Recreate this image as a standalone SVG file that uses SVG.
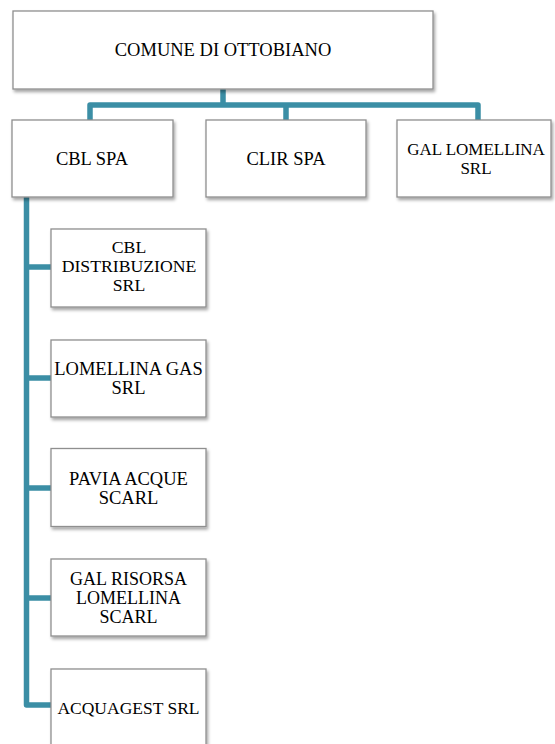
<svg xmlns="http://www.w3.org/2000/svg" width="555" height="744" viewBox="0 0 555 744">
  <defs>
    <filter id="sh" x="-10%" y="-10%" width="130%" height="140%">
      <feDropShadow dx="1.5" dy="2.5" stdDeviation="1.6" flood-color="#000" flood-opacity="0.35"/>
    </filter>
  </defs>
  <style>
    .box { fill: #ffffff; stroke: #8f8f8f; stroke-width: 1.3; filter: url(#sh); }
    .t { font-family: "Liberation Serif", "Times New Roman", serif; font-size: 18.5px; fill: #000; text-anchor: middle; }
    .conn { fill: none; stroke: #3b8ea5; stroke-width: 5.5; stroke-linejoin: round; }
  </style>
  <rect width="555" height="744" fill="#ffffff"/>

  <g id="connectors">
    <path class="conn" d="M223 89 V105 M90 120 V105 H478 V120 M286 105 V120"/>
    <path class="conn" d="M26.5 197 V705 H51 M26.5 267 H51 M26.5 378 H51 M26.5 488 H51 M26.5 598 H51"/>
  </g>

  <g id="comune">
    <rect class="box" x="13" y="11" width="420" height="78"/>
    <text class="t" x="223" y="55.5">COMUNE DI OTTOBIANO</text>
  </g>

  <g id="cbl-spa">
    <rect class="box" x="12" y="120" width="161" height="77"/>
    <text class="t" x="92" y="165">CBL SPA</text>
  </g>

  <g id="clir-spa">
    <rect class="box" x="206" y="120" width="160" height="77"/>
    <text class="t" x="286" y="165">CLIR SPA</text>
  </g>

  <g id="gal-lomellina">
    <rect class="box" x="397" y="120" width="154" height="77"/>
    <text class="t" x="476" y="155" style="font-size:17px">GAL LOMELLINA</text>
    <text class="t" x="476" y="174" style="font-size:17px">SRL</text>
  </g>

  <g id="cbl-distribuzione">
    <rect class="box" x="51" y="229" width="155" height="78"/>
    <text class="t" x="129" y="253" style="font-size:17.7px">CBL</text>
    <text class="t" x="129" y="272" style="font-size:17.7px">DISTRIBUZIONE</text>
    <text class="t" x="129" y="290.5" style="font-size:17.7px">SRL</text>
  </g>

  <g id="lomellina-gas">
    <rect class="box" x="51" y="340" width="155" height="77"/>
    <text class="t" x="128.5" y="375">LOMELLINA GAS</text>
    <text class="t" x="128.5" y="394">SRL</text>
  </g>

  <g id="pavia-acque">
    <rect class="box" x="51" y="448.5" width="155" height="78"/>
    <text class="t" x="128.5" y="485">PAVIA ACQUE</text>
    <text class="t" x="128.5" y="503.5">SCARL</text>
  </g>

  <g id="gal-risorsa">
    <rect class="box" x="51" y="559" width="155" height="77"/>
    <text class="t" x="128.5" y="585" style="font-size:18px">GAL RISORSA</text>
    <text class="t" x="128.5" y="604" style="font-size:18px">LOMELLINA</text>
    <text class="t" x="128.5" y="622.5" style="font-size:18px">SCARL</text>
  </g>

  <g id="acquagest">
    <rect class="box" x="51" y="669" width="155" height="78"/>
    <text class="t" x="128.5" y="713.5" style="font-size:17.5px">ACQUAGEST SRL</text>
  </g>
</svg>
